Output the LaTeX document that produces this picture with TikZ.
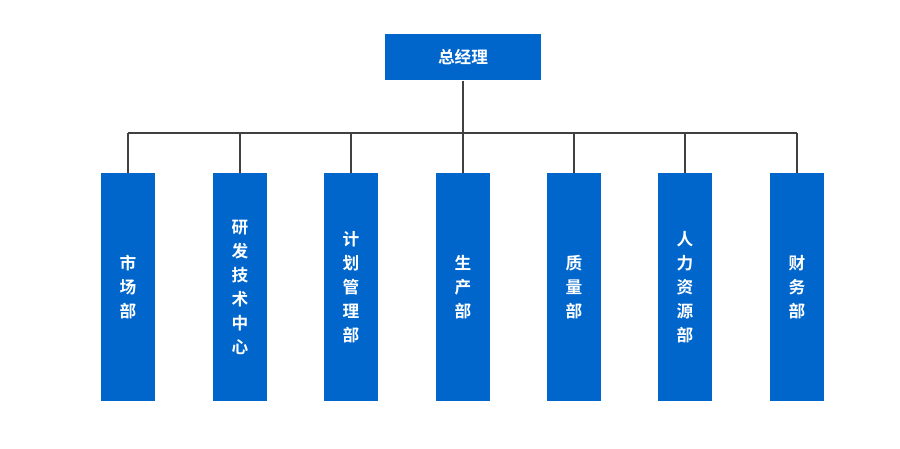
\documentclass[tikz,border=0pt]{standalone}
\usepackage{fontspec}
\newfontfamily\cjk{Noto Sans CJK SC}[BoldFont={Noto Sans CJK SC Bold}]
\definecolor{boxblue}{RGB}{0,102,204}
\tikzset{
  org/.style={fill=boxblue, text=white, font=\cjk\bfseries\fontsize{12.5}{18}\selectfont, inner sep=0pt},
  top/.style={org, minimum width=117pt, minimum height=35pt},
  dept/.style={org, minimum width=40pt, minimum height=171pt, align=center},
  link/.style={draw=black!75, line width=1pt}
}
\begin{document}
\begin{tikzpicture}[x=0.75pt,y=0.75pt,yscale=-1,xscale=1]
\useasboundingbox (0,0) rectangle (900,449);

% top node
\node[top] (gm) at (463,57) {总经理};
\coordinate (bus) at (463,133);

% departments
\foreach \name/\x/\txt in {sc/128/{市\\场\\部}, yf/240/{研\\发\\技\\术\\中\\心}, jh/351/{计\\划\\管\\理\\部}, prod/463/{生\\产\\部}, zl/574/{质\\量\\部}, hr/685/{人\\力\\资\\源\\部}, cw/797/{财\\务\\部}}
{
  \node[dept] (\name) at (\x,287) {\txt};
  \draw[link] (\name.north) -- (\name.north |- bus);
}

% connectors
\draw[link] (gm.south) -- (bus);
\draw[link] (sc.north |- bus) -- (cw.north |- bus);

\end{tikzpicture}
\end{document}
